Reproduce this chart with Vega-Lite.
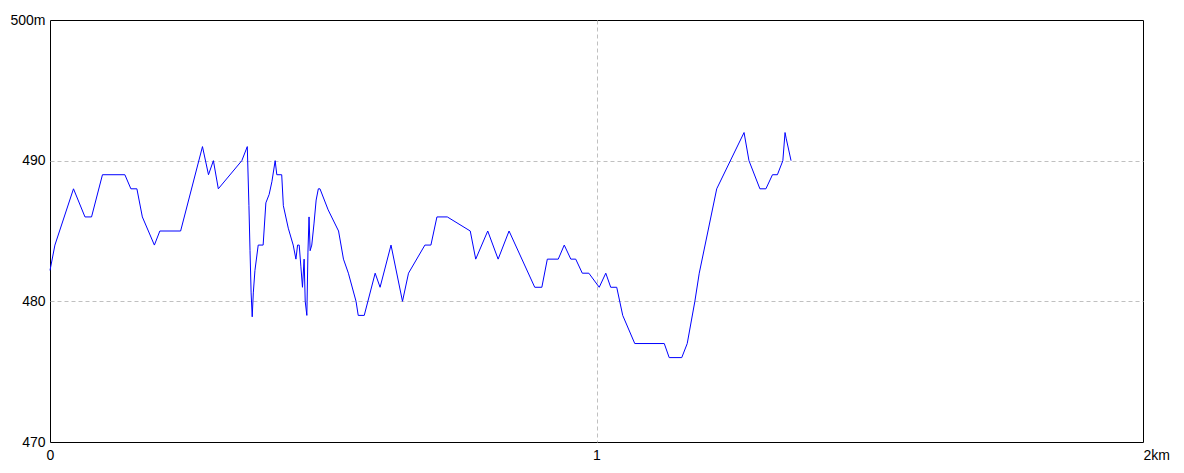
{
  "$schema": "https://vega.github.io/schema/vega-lite/v6.json",
  "width": 1093,
  "height": 422,
  "autosize": {"type": "none"},
  "padding": {"left": 50, "top": 20, "right": 41, "bottom": 31},
  "background": "white",
  "config": {
    "view": {"stroke": "black", "strokeWidth": 1},
    "axis": {
      "labelFont": "Liberation Sans",
      "labelFontSize": 14,
      "labelColor": "black",
      "domain": false,
      "ticks": false,
      "tickSize": 0,
      "grid": true,
      "gridDash": [4, 3],
      "gridWidth": 1,
      "title": null
    }
  },
  "data": {
    "values": [
      {"km": 0.0, "elev": 482.2},
      {"km": 0.009, "elev": 484},
      {"km": 0.043, "elev": 488},
      {"km": 0.064, "elev": 486},
      {"km": 0.076, "elev": 486},
      {"km": 0.096, "elev": 489},
      {"km": 0.137, "elev": 489},
      {"km": 0.148, "elev": 488},
      {"km": 0.159, "elev": 488},
      {"km": 0.169, "elev": 486},
      {"km": 0.191, "elev": 484},
      {"km": 0.201, "elev": 485},
      {"km": 0.239, "elev": 485},
      {"km": 0.279, "elev": 491},
      {"km": 0.290, "elev": 489},
      {"km": 0.299, "elev": 490},
      {"km": 0.308, "elev": 488},
      {"km": 0.351, "elev": 490},
      {"km": 0.361, "elev": 491},
      {"km": 0.364, "elev": 486.8},
      {"km": 0.366, "elev": 483.6},
      {"km": 0.368, "elev": 480.6},
      {"km": 0.370, "elev": 478.9},
      {"km": 0.372, "elev": 480.6},
      {"km": 0.375, "elev": 482.2},
      {"km": 0.381, "elev": 484},
      {"km": 0.390, "elev": 484},
      {"km": 0.395, "elev": 487},
      {"km": 0.401, "elev": 487.6},
      {"km": 0.406, "elev": 488.5},
      {"km": 0.412, "elev": 490},
      {"km": 0.415, "elev": 489},
      {"km": 0.424, "elev": 489},
      {"km": 0.427, "elev": 486.8},
      {"km": 0.436, "elev": 485.2},
      {"km": 0.445, "elev": 484},
      {"km": 0.450, "elev": 483},
      {"km": 0.453, "elev": 484},
      {"km": 0.456, "elev": 484},
      {"km": 0.459, "elev": 482.5},
      {"km": 0.462, "elev": 481},
      {"km": 0.465, "elev": 483},
      {"km": 0.467, "elev": 480},
      {"km": 0.470, "elev": 479},
      {"km": 0.472, "elev": 483.5},
      {"km": 0.474, "elev": 486},
      {"km": 0.476, "elev": 483.6},
      {"km": 0.479, "elev": 484},
      {"km": 0.483, "elev": 485.5},
      {"km": 0.487, "elev": 487.2},
      {"km": 0.491, "elev": 488},
      {"km": 0.494, "elev": 488},
      {"km": 0.509, "elev": 486.5},
      {"km": 0.528, "elev": 485},
      {"km": 0.537, "elev": 483},
      {"km": 0.546, "elev": 482},
      {"km": 0.560, "elev": 480},
      {"km": 0.564, "elev": 479},
      {"km": 0.575, "elev": 479},
      {"km": 0.595, "elev": 482},
      {"km": 0.604, "elev": 481},
      {"km": 0.624, "elev": 484},
      {"km": 0.645, "elev": 480},
      {"km": 0.656, "elev": 482},
      {"km": 0.686, "elev": 484},
      {"km": 0.697, "elev": 484},
      {"km": 0.708, "elev": 486},
      {"km": 0.727, "elev": 486},
      {"km": 0.769, "elev": 485},
      {"km": 0.779, "elev": 483},
      {"km": 0.801, "elev": 485},
      {"km": 0.820, "elev": 483},
      {"km": 0.840, "elev": 485},
      {"km": 0.887, "elev": 481},
      {"km": 0.900, "elev": 481},
      {"km": 0.910, "elev": 483},
      {"km": 0.930, "elev": 483},
      {"km": 0.941, "elev": 484},
      {"km": 0.953, "elev": 483},
      {"km": 0.962, "elev": 483},
      {"km": 0.974, "elev": 482},
      {"km": 0.986, "elev": 482},
      {"km": 1.005, "elev": 481},
      {"km": 1.017, "elev": 482},
      {"km": 1.026, "elev": 481},
      {"km": 1.037, "elev": 481},
      {"km": 1.048, "elev": 479},
      {"km": 1.070, "elev": 477},
      {"km": 1.124, "elev": 477},
      {"km": 1.133, "elev": 476},
      {"km": 1.156, "elev": 476},
      {"km": 1.166, "elev": 477},
      {"km": 1.180, "elev": 480},
      {"km": 1.188, "elev": 482},
      {"km": 1.220, "elev": 488},
      {"km": 1.270, "elev": 492},
      {"km": 1.279, "elev": 490},
      {"km": 1.299, "elev": 488},
      {"km": 1.310, "elev": 488},
      {"km": 1.322, "elev": 489},
      {"km": 1.331, "elev": 489},
      {"km": 1.341, "elev": 490},
      {"km": 1.345, "elev": 492},
      {"km": 1.347, "elev": 491.6},
      {"km": 1.356, "elev": 490}
    ]
  },
  "mark": {"type": "line", "color": "#0000ff", "strokeWidth": 1, "interpolate": "linear"},
  "encoding": {
    "x": {
      "field": "km",
      "type": "quantitative",
      "scale": {"domain": [0, 2], "nice": false, "zero": false},
      "axis": {
        "values": [0, 1, 2],
        "labelExpr": "datum.value > 1.5 ? '2km' : (datum.value > 0.5 ? '1' : '0')",
        "labelAlign": {"condition": {"test": "datum.value > 1.5", "value": "left"}, "value": "center"},
        "gridColor": {"condition": {"test": "datum.value > 0.5 && datum.value < 1.5", "value": "#c0c0c0"}, "value": "transparent"},
        "labelPadding": 6,
        "labelFlush": false,
        "labelOverlap": false
      }
    },
    "y": {
      "field": "elev",
      "type": "quantitative",
      "scale": {"domain": [470, 500], "nice": false, "zero": false},
      "axis": {
        "values": [470, 480, 490, 500],
        "format": "d",
        "labelExpr": "datum.value == 500 ? '500m' : datum.label",
        "gridColor": {"condition": {"test": "datum.value == 480 || datum.value == 490", "value": "#c0c0c0"}, "value": "transparent"},
        "labelPadding": 5,
        "labelFlush": false,
        "labelOverlap": false
      }
    }
  }
}
